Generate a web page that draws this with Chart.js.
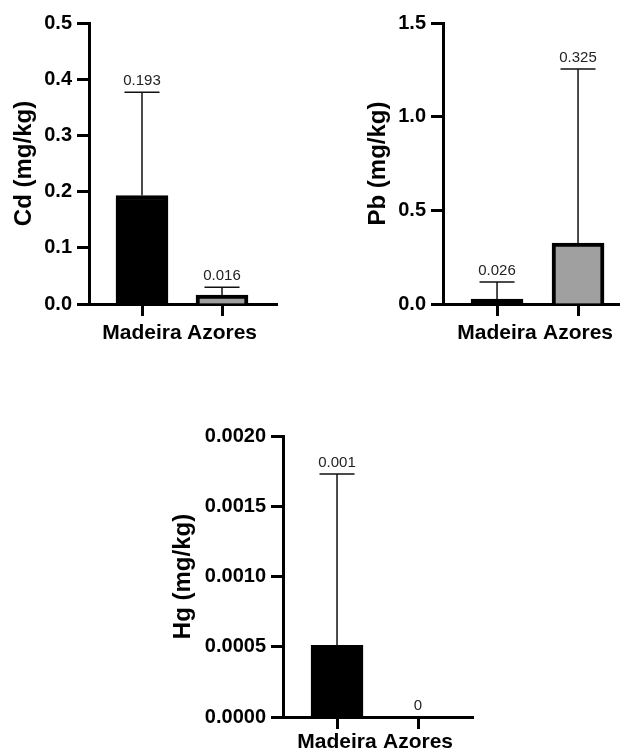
<!DOCTYPE html>
<html>
<head>
<meta charset="utf-8">
<script src="https://cdn.jsdelivr.net/npm/chart.js@4.4.1/dist/chart.umd.min.js"></script>
<style>
body { margin: 0; background: #fff; }
.box { position: absolute; }
</style>
</head>
<body>
<div class="box" style="left:0px;top:0px"><canvas id="cdChart" width="300" height="345"></canvas></div>
<div class="box" style="left:354px;top:0px"><canvas id="pbChart" width="266" height="345"></canvas></div>
<div class="box" style="left:159px;top:413px"><canvas id="hgChart" width="340" height="339"></canvas></div>
<script>
// values (mean +/- SD, upper error only)
const categories = ['Madeira', 'Azores'];
const barColors = ['#000000', '#a0a0a0'];

const cdMean = [0.193, 0.016];
const cdSd = [0.184, 0.014];
const cdLabels = ['0.193', '0.016'];
const cdTicks = [0, 0.1, 0.2, 0.3, 0.4, 0.5];

const pbMean = [0.026, 0.325];
const pbSd = [0.091, 0.93];
const pbLabels = ['0.026', '0.325'];
const pbTicks = [0, 0.5, 1.0, 1.5];

const hgMean = [0.00051, 0];
const hgSd = [0.00122, 0];
const hgLabels = ['0.001', '0'];
const hgTicks = [0, 0.0005, 0.001, 0.0015, 0.002];

const FONT = "Arial, 'Liberation Sans', sans-serif";

// error bars + value labels on top
const errorBars = {
    id: 'errorBars',
    afterDatasetsDraw(chart, args, opts) {
        const ctx = chart.ctx;
        const xs = chart.scales.x, ys = chart.scales.y;
        ctx.save();
        opts.mean.forEach((m, i) => {
            const x = xs.getPixelForValue(i);
            const yBase = ys.getPixelForValue(m);
            const yTop = ys.getPixelForValue(m + opts.sd[i]);
            if (opts.sd[i] > 0) {
                ctx.strokeStyle = '#111';
                ctx.lineWidth = 1.5;
                ctx.beginPath();
                ctx.moveTo(x, yBase);
                ctx.lineTo(x, yTop);
                ctx.moveTo(x - 17.5, yTop);
                ctx.lineTo(x + 17.5, yTop);
                ctx.stroke();
            }
            ctx.fillStyle = '#222';
            ctx.font = '15px ' + FONT;
            ctx.textAlign = 'center';
            ctx.textBaseline = 'alphabetic';
            ctx.fillText(opts.labels[i], x, yTop - 7);
        });
        ctx.restore();
    }
};

function makeChart(id, mean, sd, labels, yTicks, decimals, title, lay) {
    const ctx = document.getElementById(id).getContext('2d');
    return new Chart(ctx, {
        type: 'bar',
        data: {
            datasets: [{
                data: mean.map((v, i) => ({ x: i, y: v })),
                backgroundColor: barColors,
                borderColor: '#000',
                borderWidth: 4,
                barThickness: 52
            }]
        },
        options: {
            responsive: false,
            animation: false,
            layout: { padding: { top: lay.top, right: lay.right, left: 0, bottom: 0 } },
            plugins: {
                legend: { display: false },
                tooltip: { enabled: false },
                errorBars: { mean: mean, sd: sd, labels: labels }
            },
            scales: {
                x: {
                    type: 'linear',
                    offset: false,
                    min: lay.xMin,
                    max: lay.xMax,
                    afterBuildTicks: s => { s.ticks = categories.map((c, i) => ({ value: i })); },
                    afterFit: s => { s.height = lay.xh; },
                    border: { display: true, color: '#000', width: 3 },
                    grid: { offset: false, drawOnChartArea: false, drawTicks: true, tickLength: 12, tickWidth: 3, tickColor: '#000' },
                    ticks: {
                        color: '#000',
                        padding: lay.xpad,
                        maxRotation: 0,
                        autoSkip: false,
                        font: { family: FONT, size: 21, weight: 'bold' },
                        callback: v => categories[v]
                    }
                },
                y: {
                    min: yTicks[0],
                    max: yTicks[yTicks.length - 1],
                    afterBuildTicks: s => { s.ticks = yTicks.map(v => ({ value: v })); },
                    afterFit: s => { s.width = lay.yw; },
                    border: { display: true, color: '#000', width: 3 },
                    grid: { drawOnChartArea: false, drawTicks: true, tickLength: 12, tickWidth: 3, tickColor: '#000' },
                    ticks: {
                        color: '#000',
                        padding: 5,
                        font: { family: FONT, size: 20, weight: 'bold' },
                        callback: v => v.toFixed(decimals)
                    },
                    title: {
                        display: true,
                        text: title,
                        color: '#000',
                        padding: { top: 10, bottom: 0 },
                        font: { family: FONT, size: 24, weight: 'bold' }
                    }
                }
            }
        },
        plugins: [errorBars]
    });
}

makeChart('cdChart', cdMean, cdSd, cdLabels, cdTicks, 1, 'Cd (mg/kg)',
    { top: 23, right: 23, yw: 89, xh: 41, xpad: 5, xMin: -0.6625, xMax: 1.6875 });
makeChart('pbChart', pbMean, pbSd, pbLabels, pbTicks, 1, 'Pb (mg/kg)',
    { top: 23, right: 0, yw: 89, xh: 41, xpad: 5, xMin: -0.667, xMax: 1.518 });
makeChart('hgChart', hgMean, hgSd, hgLabels, hgTicks, 4, 'Hg (mg/kg)',
    { top: 23, right: 26, yw: 124, xh: 35, xpad: 1, xMin: -0.667, xMax: 1.679 });
</script>
</body>
</html>
